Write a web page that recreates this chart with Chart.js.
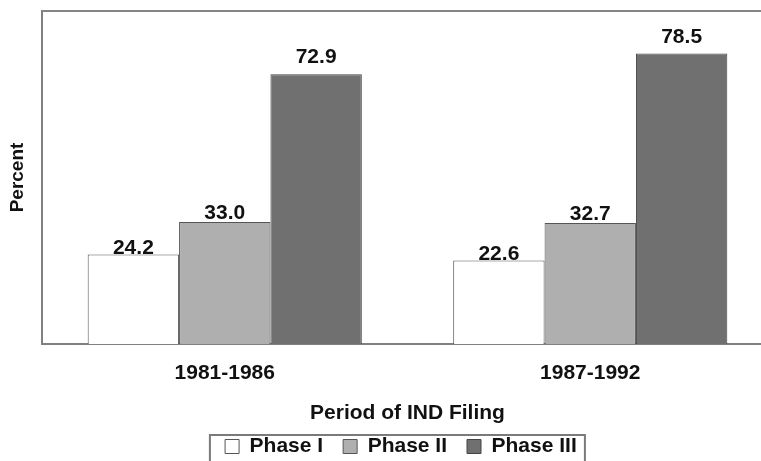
<!DOCTYPE html>
<html><head><meta charset="utf-8">
<script src="https://cdn.jsdelivr.net/npm/chart.js@4.4.0/dist/chart.umd.min.js"></script>
<style>
html,body{margin:0;padding:0;overflow:hidden;background:#fff;width:761px;height:461px}
#wrap{position:absolute;left:0;top:0;width:776px;height:480px}
</style>
</head><body>
<div id="wrap"><canvas id="c" width="776" height="480"></canvas></div>
<script>
const categories = ['1981-1986', '1987-1992'];
const seriesNames = ['Phase I', 'Phase II', 'Phase III'];
const phaseI = [24.2, 22.6];
const phaseII = [33.0, 32.7];
const phaseIII = [72.9, 78.5];
const yAxisTitle = 'Percent';
const xAxisTitle = 'Period of IND Filing';

const FONT = "'Liberation Sans', Arial, Helvetica, sans-serif";
const TXT = '#111111';

const decor = {
  id: 'decor',
  afterLayout(chart) {
    const lg = chart.legend;
    if (lg) { lg.left += 13.4; lg.right += 13.4; }
  },
  afterDatasetsDraw(chart) {
    const ctx = chart.ctx;
    ctx.save();
    ctx.font = 'bold 21px ' + FONT;
    ctx.fillStyle = TXT;
    ctx.textAlign = 'center';
    ctx.textBaseline = 'alphabetic';
    chart.data.datasets.forEach((ds, i) => {
      const meta = chart.getDatasetMeta(i);
      meta.data.forEach((bar, j) => {
        ctx.fillText(ds.data[j].toFixed(1), bar.x, bar.y - ds.labelGap);
      });
    });
    ctx.restore();
  },
  afterDraw(chart) {
    const ctx = chart.ctx;
    const a = chart.chartArea;
    ctx.save();
    ctx.strokeStyle = '#858585';
    ctx.lineWidth = 2;
    ctx.beginPath();
    ctx.moveTo(a.left, a.top);
    ctx.lineTo(chart.width, a.top);
    ctx.stroke();
    const lg = chart.legend;
    if (lg) {
      const c = (lg.left + lg.right) / 2;
      const top = lg.top + 19;
      ctx.strokeStyle = '#7a7a7a';
      ctx.lineWidth = 2;
      ctx.strokeRect(c - 191, top, 375, chart.height - top + 10);
    }
    ctx.restore();
  }
};

new Chart(document.getElementById('c'), {
  type: 'bar',
  data: {
    labels: categories,
    datasets: [
      { label: seriesNames[0], data: phaseI, backgroundColor: '#ffffff', borderColor: '#555555', borderWidth: 1, labelGap: 0.5 },
      { label: seriesNames[1], data: phaseII, backgroundColor: '#afafaf', borderColor: '#555555', borderWidth: 1, labelGap: 3 },
      { label: seriesNames[2], data: phaseIII, backgroundColor: '#707070', borderColor: '#444444', borderWidth: 1, labelGap: 11 }
    ]
  },
  options: {
    responsive: false,
    animation: false,
    devicePixelRatio: 1,
    categoryPercentage: 0.75,
    barPercentage: 1.0,
    layout: { padding: { left: 2, right: 3, top: 11, bottom: 13 } },
    plugins: {
      legend: {
        position: 'bottom',
        labels: {
          font: { family: FONT, size: 21, weight: 'bold' },
          color: TXT,
          boxWidth: 14,
          boxHeight: 14,
          padding: 20
        }
      },
      tooltip: { enabled: false }
    },
    scales: {
      x: {
        grid: { display: false, drawTicks: false },
        border: { display: true, color: '#808080', width: 2 },
        ticks: { padding: 17, color: TXT, font: { family: FONT, size: 21, weight: 'bold' } },
        title: { display: true, text: xAxisTitle, color: TXT, font: { family: FONT, size: 21, weight: 'bold' }, padding: { top: -2.8, bottom: -9.6 } }
      },
      y: {
        min: 0,
        max: 90,
        grid: { display: false, drawTicks: false },
        border: { display: true, color: '#808080', width: 2 },
        ticks: { display: false },
        title: { display: true, text: yAxisTitle, color: TXT, font: { family: FONT, size: 19, weight: 'bold' }, padding: { top: 4.6, bottom: 12.6 } }
      }
    }
  },
  plugins: [decor]
});
</script>
</body></html>
